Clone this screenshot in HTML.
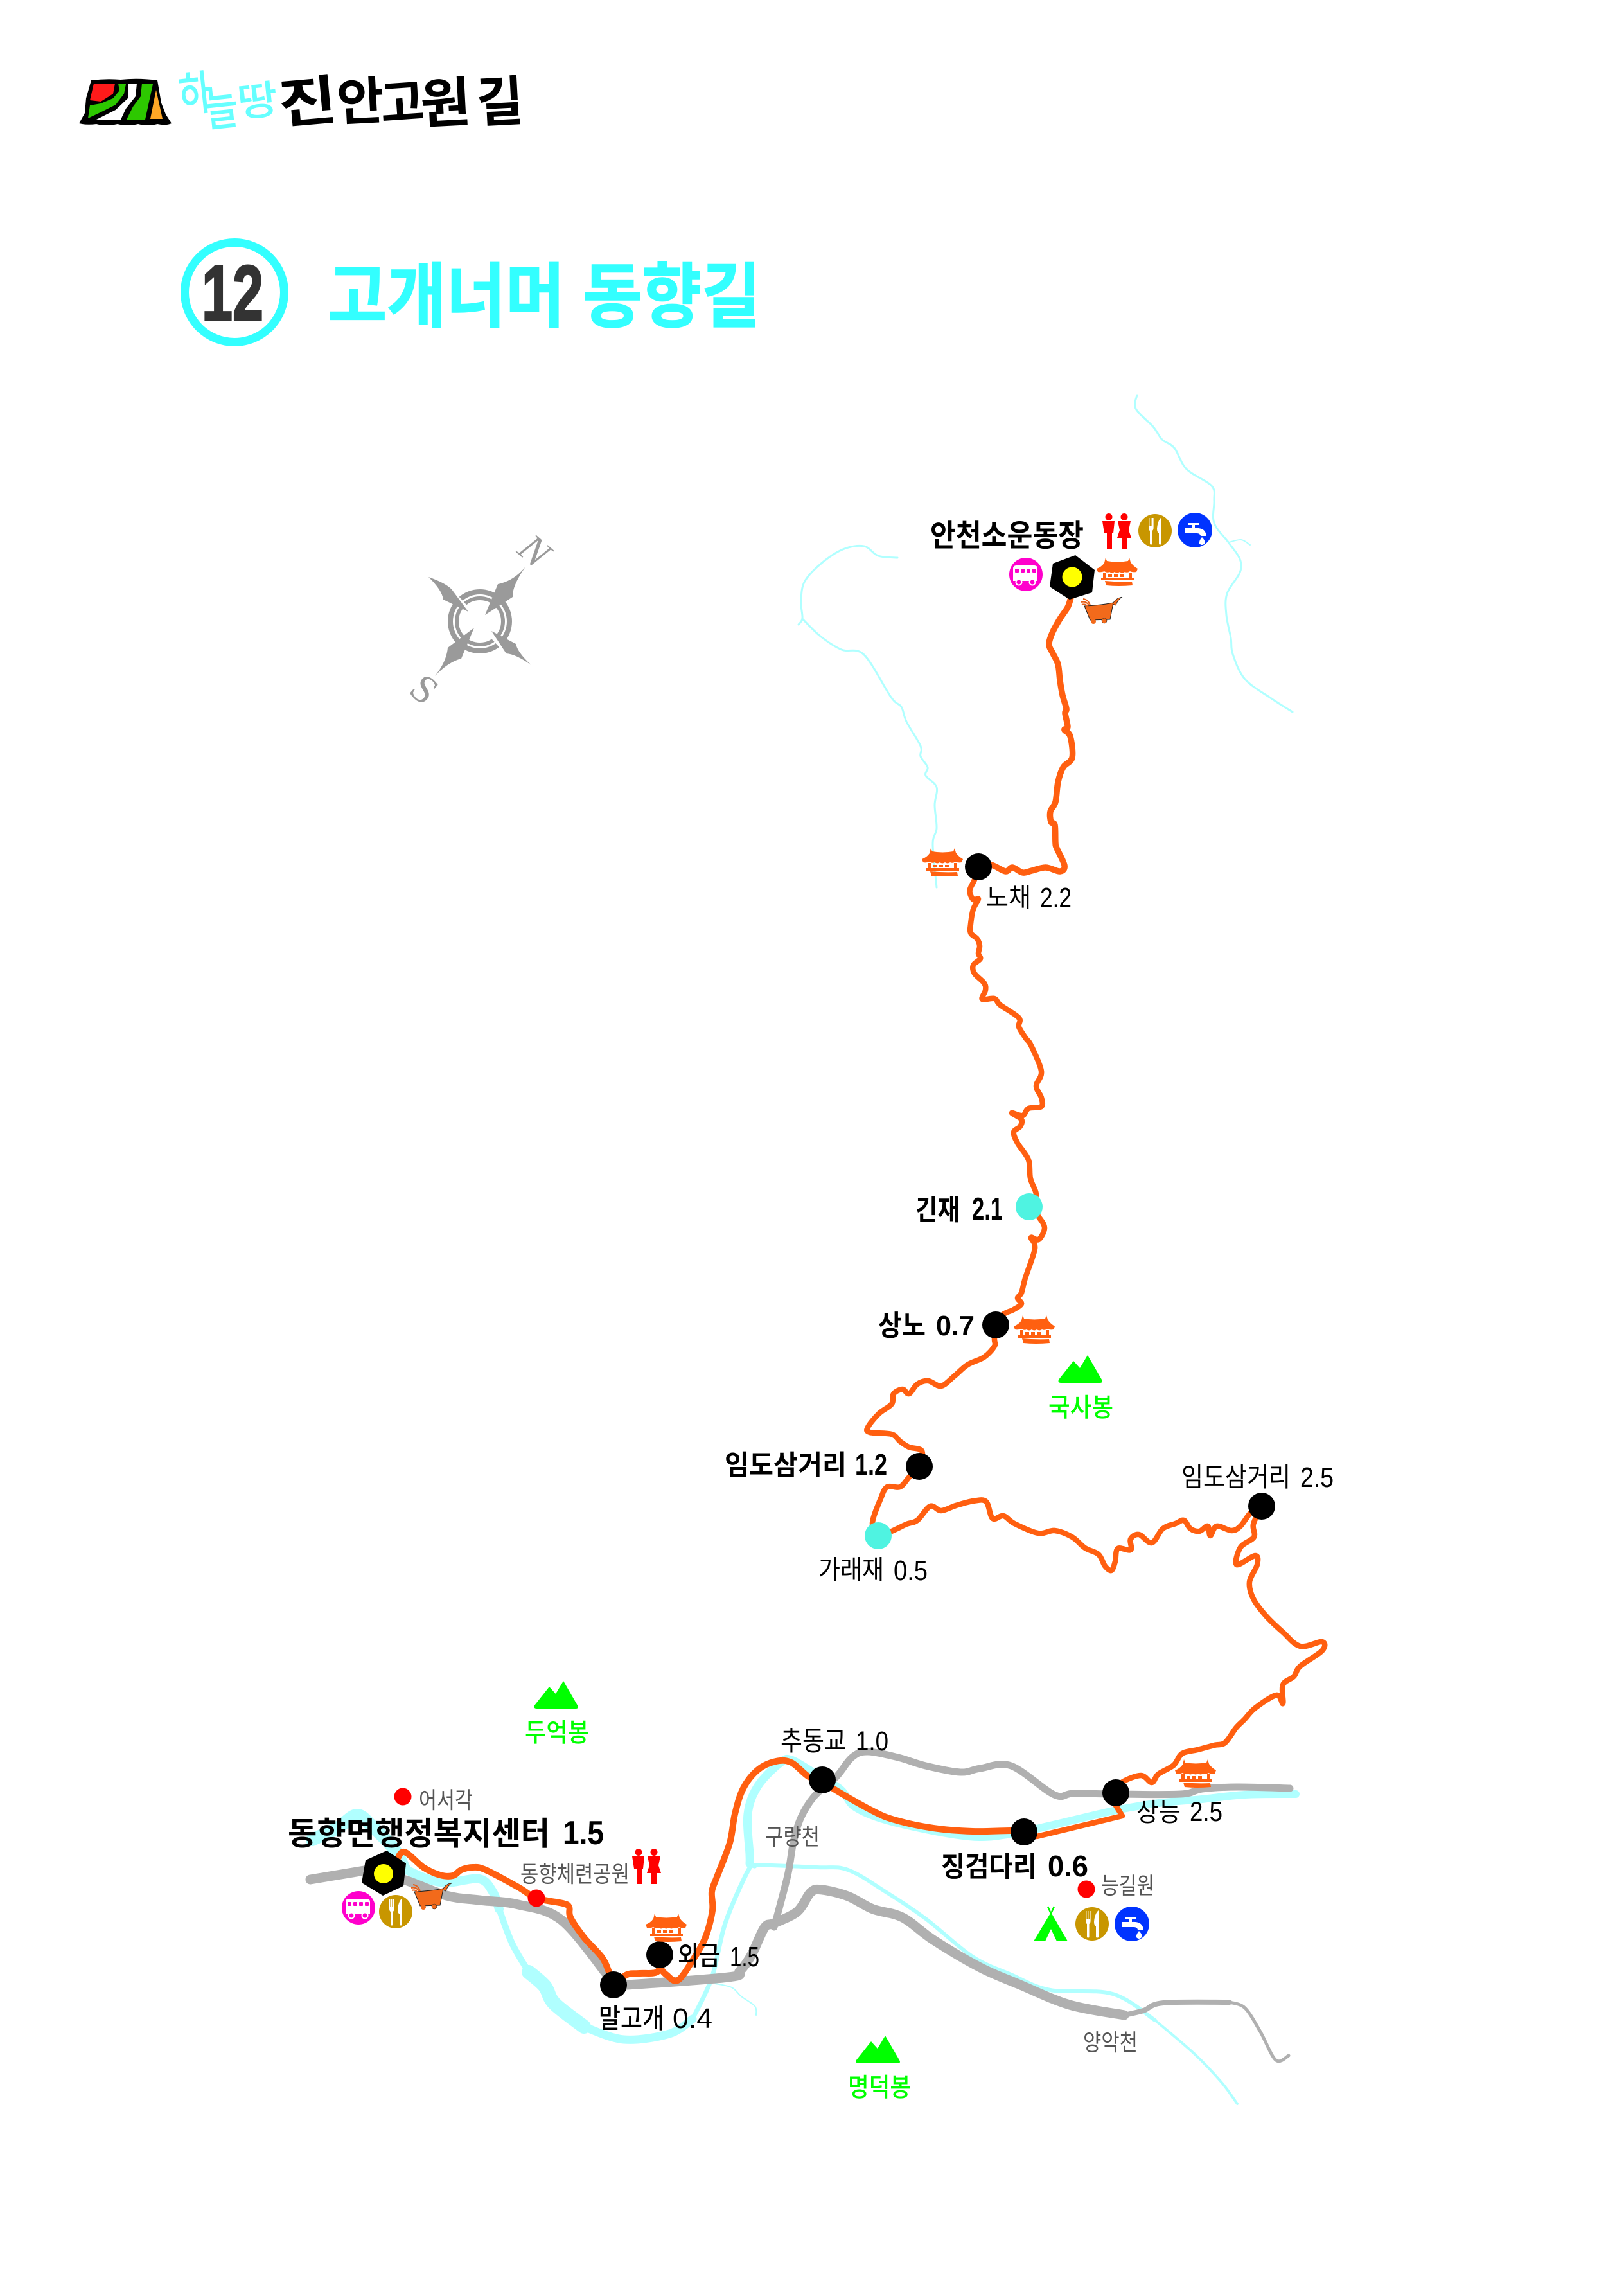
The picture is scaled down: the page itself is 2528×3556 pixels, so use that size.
<!DOCTYPE html>
<html><head><meta charset="utf-8"><style>
html,body{margin:0;padding:0;background:#fff}
svg{display:block}
text{font-family:"Liberation Sans","Noto Sans CJK KR",sans-serif}
.b{font-weight:700;fill:#000}.n{font-weight:400;fill:#000}.m{font-weight:500;fill:#000}
.g{font-weight:400;fill:#555}.p{font-weight:500;fill:#0f0}
</style></head><body>
<svg xmlns="http://www.w3.org/2000/svg" width="2528" height="3556" viewBox="0 0 2528 3556">
<defs>
<g id="pav" fill="#ff6010">
<path d="M14,1 L16,6 Q32,9 49,6 L51,1 L53,8 Q57,14 64,18 L62,23 Q56,24 52,22 Q48,25 44,23 Q40,26 36,23 Q32,26 28,23 Q24,26 20,23 Q16,25 12,22 Q7,24 2,23 L0,18 Q8,15 12,9 Z"/>
<rect x="10" y="24" width="5" height="8"/><rect x="50" y="24" width="5" height="8"/>
<rect x="18" y="27" width="6" height="4"/><rect x="27" y="27" width="6" height="4"/><rect x="36" y="27" width="6" height="4"/>
<path d="M7,32 H58 V36 H7 Z"/><path d="M13,37 Q34,39 55,38 L56,44 Q34,46 15,44 Z"/>
</g>
<g id="cart">
<path d="M5,14 Q30,13 50,9 L45,35 L14,36 Z" fill="#f26a1b" stroke="#222" stroke-width="1"/>
<path d="M49,11 Q53,2 64,0 Q57,4 54,13 Z" fill="#f26a1b" stroke="#222" stroke-width=".8"/>
<path d="M0,8 Q8,6 12,13 M1,12 Q7,10 10,15 M3,3 Q11,4 14,13" fill="none" stroke="#e8601a" stroke-width="2"/>
<circle cx="19" cy="38" r="4" fill="#f26a1b"/><circle cx="36" cy="37" r="4" fill="#f26a1b" stroke="#222" stroke-width=".6"/>
</g>
<g id="bus"><circle r="26" fill="#ff00cc"/>
<path d="M-20,-9 Q-20,-14 -15,-14 H13 Q18,-14 18,-9 V10 H-20 Z" fill="#fff"/>
<g fill="#ff00cc"><rect x="-17" y="-9" width="6" height="6" rx="1"/><rect x="-8" y="-9" width="6" height="6" rx="1"/><rect x="1" y="-9" width="6" height="6" rx="1"/><rect x="10" y="-9" width="6" height="6" rx="1"/></g>
<circle cx="-11" cy="12" r="4.5" fill="#ff00cc" stroke="#fff" stroke-width="2"/><circle cx="10" cy="12" r="4.5" fill="#ff00cc" stroke="#fff" stroke-width="2"/></g>
<g id="food"><circle r="26" fill="#c89600"/>
<path d="M-10,-20 H-8.6 V-8 H-7 V-20 H-5.6 V-8 H-4 V-20 H-2.4 V-5 Q-2.4,-1 -4.5,0 V21 Q-6,22 -8,21 V0 Q-10,-1 -10,-5 Z" fill="#fff"/>
<path d="M10,-21 V21 Q8,22 6,21 V4 Q3,2 3,-3 Q4,-16 10,-21 Z" fill="#fff"/></g>
<g id="water"><circle r="27" fill="#0033ff"/>
<path d="M-16,-3 H-4 V-8 H-11 V-11 H7 V-8 H0 V-3 Q14,-4 17,5 V9 H9 Q8,5 3,5 H-16 Z" fill="#fff"/>
<path d="M11,11 Q17,17 15,21 Q11,25 7,21 Q6,17 11,11 Z" fill="#fff"/></g>
<g id="wc" fill="#f00">
<circle cx="10" cy="5.5" r="5.5"/><path d="M0,12 H19 L17,31 H15 V55 H7 V31 H3 Z"/>
<circle cx="34" cy="5.5" r="5.5"/><path d="M24,12 H44 L41,26 L45,38 H38 V55 H30 V38 H23 L27,26 Z"/>
</g>
<path id="mt" d="M-1,31 L22,2 L32,13 L44,-7 L66,31 Q69,36 63,36 H3 Q-3,36 -1,31 Z" fill="#0f0"/>
</defs>
<rect width="2528" height="3556" fill="#fff"/>

<!-- logo -->
<path d="M142,125 Q165,122 188,124 Q215,121 245,125 L251,160 L258,178 L267,192 Q258,196 245,193 Q230,197 215,193 Q198,197 183,193 Q165,197 150,193 Q135,195 123,192 L132,176 L134,153 Z" fill="#000"/>
<path d="M146,130 L179,130 L176,146 L157,158 L140,156 Z" fill="#ff1a1a"/>
<path d="M184,130 L196,131 L193,146 L180,163 L154,176 L137,184 L140,164 L157,161 L176,153 L186,141 Z" fill="#2dc800"/>
<path d="M199,130 L213,130 L211,150 L196,169 L188,186 L150,186 L180,171 L199,153 Z" fill="#fff"/>
<path d="M221,130 L238,131 L226,186 L197,186 L207,166 L219,150 Z" fill="#2dc800"/>
<path d="M243,140 L253,185 L234,185 Z" fill="#ffa726"/>
<g font-weight="500" fill="#66ffff">
<text transform="translate(281,174) rotate(-6) scale(.9,1.18)" font-size="62">하</text>
<text transform="translate(322,197) rotate(-6) scale(.9,1.18)" font-size="62">늘</text>
<text transform="translate(372,182) rotate(-6) scale(1.1,1.0)" font-size="62">땅</text>
</g>
<g font-weight="700" fill="#000">
<text transform="translate(436,192) rotate(-5) scale(1.3,1.1)" font-size="76">진</text>
<text transform="translate(526,188) rotate(-3) scale(1.05,1.05)" font-size="76">안</text>
<text transform="translate(594,190) rotate(-4) scale(1.0,1.05)" font-size="74">고</text>
<text transform="translate(656,192) rotate(-3) scale(1.12,1.1)" font-size="76">원</text>
<text transform="translate(743,190) rotate(-3) scale(1.05,1.1)" font-size="76">길</text>
</g>

<!-- title -->
<circle cx="365" cy="455" r="77.5" fill="none" stroke="#33ffff" stroke-width="13"/>
<text x="314" y="498" font-size="122" font-weight="700" fill="#333" stroke="#333" stroke-width="3" textLength="96" lengthAdjust="spacingAndGlyphs">12</text>
<text x="510" y="500" font-size="110" font-weight="700" fill="#33ffff" stroke="#33ffff" stroke-width="1.5" textLength="674" lengthAdjust="spacingAndGlyphs">고개너머 동향길</text>

<!-- compass -->
<g fill="none" stroke="#9a9a9a"><circle cx="747" cy="967" r="46" stroke-width="8"/><circle cx="747" cy="967" r="36" stroke-width="6"/></g>
<g stroke="#fff" stroke-width="7"><path d="M700,918 L790,1016 M790,918 L706,1016"/></g>
<g fill="#9a9a9a">
<path d="M818,882 Q797,912 798,929 L755,957 L775,909 Q800,904 818,882 Z"/>
<path d="M667,898 Q693,907 703,917 L729,952 L690,933 Q688,918 667,898 Z"/>
<path d="M827,1035 Q803,1018 788,1017 L765,982 L803,1002 Q806,1016 827,1035 Z"/>
<path d="M677,1052 Q695,1030 697,1008 L738,977 L718,1025 Q698,1030 677,1052 Z"/>
<text transform="translate(803,859) rotate(41)" font-size="62" font-style="italic" style="font-family:'Liberation Serif',serif">N</text>
<text transform="translate(634,1077) rotate(41)" font-size="62" style="font-family:'Liberation Serif',serif">S</text>
</g>

<!-- rivers -->
<g fill="none" stroke="#b0ffff" stroke-linejoin="round" stroke-linecap="round">
<polyline class="s" stroke-width="3" points="1770,615 1768,636 1795,664 1809,684 1828,697 1847,730 1886,756 1890,779 1890,814 1913,845 1930,870 1930,891 1910,924 1909,957 1916,993 1919,1018 1938,1057 1979,1087 2012,1108"/>
<polyline class="s" stroke-width="2" points="1913,844 1932,840 1946,848"/>
<polyline class="s" stroke-width="3" points="1397,868 1367,865 1345,850 1312,855 1277,878 1252,906 1247,937 1249,962 1243,972"/>
<polyline class="s" stroke-width="3" points="1249,963 1277,990 1310,1011 1345,1019 1387,1085 1403,1100 1411,1123 1433,1161 1433,1177 1444,1194 1441,1207 1458,1225 1455,1253 1458,1289 1452,1314 1458,1381"/>
<polyline class="s" stroke-width="20" points="486,2863 525,2845 555,2825 578,2841 613,2877 629,2908"/>
<polyline class="s" stroke-width="14" points="629,2908 660,2922 695,2930 746,2924 767,2944 777,2971"/>
<polyline class="s" stroke-width="10" points="777,2971 797,3024 823,3069"/>
<polyline class="s" stroke-width="22" points="823,3069 848,3091 863,3118 909,3154"/>
<polyline class="s" stroke-width="13" points="909,3154 971,3174 1042,3165 1078,3142"/>
<polyline class="s" stroke-width="7" points="1078,3142 1108,3078 1129,2993 1164,2912 1175,2904"/>
<polyline class="s" stroke-width="13" points="1167,2900 1167,2886 1164,2823 1180,2779 1215,2743 1232,2739 1265,2758"/>
<polyline class="s" stroke-width="12" points="1265,2758 1308,2784 1332,2813 1392,2836 1508,2858 1574,2854 1635,2841 1738,2817 1804,2806 1871,2800 1938,2793 2017,2792"/>
<polyline class="s" stroke-width="6" points="1174,2902 1271,2906 1320,2910 1380,2945 1441,2986 1514,3045 1574,3073 1635,3097 1732,3103 1798,3144"/>
<polyline class="s" stroke-width="4" points="1798,3144 1859,3196 1901,3240 1926,3274"/>
<polyline class="s" stroke-width="2" points="1113,3087 1139,3093 1154,3107 1175,3122 1177,3136"/>
</g>

<!-- roads -->
<g fill="none" stroke="#b0b0b0" stroke-linejoin="round" stroke-linecap="round">
<polyline stroke-width="15" points="483,2925 597,2906"/>
<polyline class="s" stroke-width="15" points="597,2920 631,2926 695,2950 746,2957 807,2964 874,2988 945,3073 955,3089"/>
<polyline class="s" stroke-width="15" points="955,3089 976,3089 1134,3077 1152,3067 1170,3042 1190,3000 1205,2993 1241,2975 1262,2945 1280,2941 1320,2951 1359,2971 1405,2984 1453,3019 1526,3062 1586,3088 1665,3120 1750,3136"/>
<polyline class="s" stroke-width="8" points="1750,3136 1780,3129 1811,3117 1914,3116"/>
<polyline class="s" stroke-width="5" points="1914,3116 1938,3125 1962,3162 1986,3206 2006,3199"/>
<polyline class="s" stroke-width="11" points="1205,2999 1226,2919 1235,2867 1247,2828 1268,2795 1302,2765 1326,2735 1350,2726 1398,2735 1441,2748 1495,2758 1526,2752 1574,2748 1641,2793 1671,2791 1737,2792 1838,2792 1871,2784 1926,2781 2008,2783"/>
</g>

<!-- trail -->
<g fill="none" stroke="#ff5f10" stroke-linejoin="round" stroke-linecap="round">
<polyline class="s" stroke-width="9.5" points="1667,930 1662,945 1650,963 1638,985 1633,1003 1639,1017 1647,1034 1650,1059 1654,1082 1660,1103 1658,1110 1662,1131 1657,1136 1666,1146 1669,1179 1655,1194 1647,1217 1643,1248 1635,1263 1636,1279 1642,1284 1643,1312 1645,1320 1657,1347 1650,1356 1628,1350 1606,1355 1592,1358 1576,1350 1565,1356 1543,1346 1523,1349"/>
<polyline class="s" stroke-width="8.5" points="1523,1349 1517,1369 1509.5,1386 1515,1400 1523,1399 1515,1415 1511,1438 1511,1452 1521,1461 1525,1472 1523,1484 1526,1492 1515,1502 1517,1515 1532,1530 1534,1541 1529,1555 1548,1554 1557,1564 1586,1584 1586,1598 1597,1616 1605,1627 1621,1667 1613,1690 1621,1708 1621,1722 1601,1725 1592,1736 1575,1732 1590,1742 1588,1753 1578,1762 1584,1779 1601,1805 1604,1834 1613,1860 1602,1878"/>
<polyline class="s" stroke-width="8.5" points="1602,1878 1617,1894 1626,1911 1617,1929 1605,1926 1611,1943 1596,1989 1590,2012 1584,2020 1590,2029 1578,2038 1561,2046 1550,2062 1548,2084 1548,2095 1532,2112 1506,2124 1485,2142 1465,2157 1445,2149 1428,2154 1415,2169 1405,2162 1391,2169 1388,2185 1368,2200 1351,2221 1354,2229 1388,2232 1401,2243 1415,2252 1435,2258 1431,2282 1415,2299 1401,2314 1381,2314 1371,2332 1358,2370 1367,2390"/>
<polyline class="s" stroke-width="8.5" points="1367,2390 1388,2383 1411,2372 1428,2366 1448,2344 1465,2351 1488,2343 1515,2336 1535,2337 1545,2363 1562,2359 1579,2371 1616,2386 1642,2382 1669,2392 1689,2409 1710,2419 1720,2437 1730,2444 1736,2430 1740,2410 1760,2412 1760,2395 1773,2388 1793,2401 1810,2379 1830,2371 1843,2366 1853,2379 1867,2383 1880,2375 1884,2390 1894,2375 1917,2382 1931,2375 1947,2354 1964,2344"/>
<polyline class="s" stroke-width="8.5" points="1964,2344 1951,2372 1952,2392 1931,2408 1925,2435 1954,2421 1957,2435 1945,2462 1951,2488 1971,2515 1997,2540 2024,2562 2058,2555 2058,2569 2024,2593 2014,2609 1997,2622 1997,2651 1987,2638 1954,2658 1937,2676 1924,2689 1907,2712 1890,2716 1864,2723 1840,2729 1827,2747 1803,2761 1793,2774 1776,2763 1746,2774 1737,2790"/>
<polyline stroke-width="8.5" points="1737,2790 1737,2810 1747,2826 1614,2858 1594,2851"/>
<polyline class="s" stroke-width="10" points="1594,2851 1574,2849 1514,2850 1453,2845 1392,2832 1356,2817 1298,2784 1280,2770 1259,2765 1232,2743 1208,2741 1180,2754 1157,2783 1144,2823 1136,2868 1116,2921 1108,2944 1109,2973 1098,3015 1078,3051 1055,3082 1037,3073 1027,3062"/>
<polyline class="s" stroke-width="10" points="1027,3042 1024,3068 996,3071 976,3073 955,3089"/>
<polyline class="s" stroke-width="10" points="955,3089 948,3069 937,3046 909,3015 888,2984 886,2968 876,2962 835,2954 807,2937 756,2910 736,2906 718,2910 705,2919 685,2918 659,2906 629,2882 616,2899"/>
</g>

<!-- hexes -->
<polygon points="1674,864 1704,887 1700,922 1665,933 1634,913 1639,877" fill="#000"/><circle cx="1669" cy="898" r="15.5" fill="#ff0"/>
<polygon points="602,2880 632,2900 628,2935 596,2950 563,2930 569,2895" fill="#000"/><circle cx="597" cy="2916" r="15" fill="#ff0"/>

<!-- nodes -->
<g fill="#000">
<circle cx="1523" cy="1349" r="21"/><circle cx="1550" cy="2062" r="21"/><circle cx="1431" cy="2282" r="21"/><circle cx="1964" cy="2344" r="21"/>
<circle cx="1737" cy="2790" r="21"/><circle cx="1594" cy="2851" r="21"/><circle cx="1280" cy="2770" r="21"/><circle cx="1027" cy="3042" r="21"/><circle cx="955" cy="3089" r="21"/>
</g>
<circle cx="1602" cy="1878" r="21" fill="#4ff3e1"/><circle cx="1367" cy="2390" r="21" fill="#4ff3e1"/>
<g fill="#f00"><circle cx="835" cy="2954" r="13.5"/><circle cx="627" cy="2796" r="13.5"/><circle cx="1691" cy="2940" r="13.5"/></g>

<!-- icons -->
<use href="#pav" x="1707" y="867"/><use href="#pav" x="1435" y="1319"/><use href="#pav" x="1578" y="2046"/><use href="#pav" x="1829" y="2737"/><use href="#pav" x="1005" y="2977"/>
<use href="#cart" x="1683" y="929"/><use href="#cart" x="640" y="2930"/>
<use href="#bus" x="1597" y="894"/><use href="#bus" x="558" y="2969"/>
<use href="#food" x="1798" y="826"/><use href="#food" x="616" y="2975"/><use href="#food" x="1700" y="2994"/>
<use href="#water" x="1860" y="825"/><use href="#water" x="1762" y="2994"/>
<use href="#wc" x="1716" y="799"/><use href="#wc" x="984" y="2877"/>
<path d="M1636,2978 L1631,2967 M1636,2978 L1641,2967" stroke="#0f0" stroke-width="2.5" fill="none"/>
<path d="M1636,2976 L1662,3021 H1645 L1636,3002 L1627,3021 H1609 Z" fill="#0f0"/>
<use href="#mt" x="1649" y="2116"/><use href="#mt" x="833" y="2623"/><use href="#mt" x="1334" y="3175"/>

<!-- labels -->
<text class="b" x="1448" y="850" font-size="47" textLength="239" lengthAdjust="spacingAndGlyphs">안천소운동장</text>
<text class="n" x="1535" y="1411" font-size="41" textLength="70" lengthAdjust="spacingAndGlyphs">노채</text><text class="n" x="1619" y="1412" font-size="44" textLength="49" lengthAdjust="spacingAndGlyphs">2.2</text>
<text class="b" x="1425" y="1898" font-size="44" textLength="69" lengthAdjust="spacingAndGlyphs">긴재</text><text class="b" x="1513" y="1898" font-size="49" textLength="48" lengthAdjust="spacingAndGlyphs">2.1</text>
<text class="b" x="1367" y="2078" font-size="44" textLength="74" lengthAdjust="spacingAndGlyphs">상노</text><text class="b" x="1457" y="2078" font-size="44" textLength="60" lengthAdjust="spacingAndGlyphs">0.7</text>
<text class="b" x="1128" y="2295" font-size="43" textLength="190" lengthAdjust="spacingAndGlyphs">임도삼거리</text><text class="b" x="1331" y="2295" font-size="46" textLength="50" lengthAdjust="spacingAndGlyphs">1.2</text>
<text class="n" x="1839" y="2313" font-size="41" textLength="170" lengthAdjust="spacingAndGlyphs">임도삼거리</text><text class="n" x="2024" y="2314" font-size="44" textLength="52" lengthAdjust="spacingAndGlyphs">2.5</text>
<text class="n" x="1274" y="2457" font-size="41" textLength="102" lengthAdjust="spacingAndGlyphs">가래재</text><text class="n" x="1391" y="2459" font-size="44" textLength="53" lengthAdjust="spacingAndGlyphs">0.5</text>
<text class="p" x="1632" y="2204" font-size="40" textLength="101" lengthAdjust="spacingAndGlyphs">국사봉</text>
<text class="p" x="817" y="2710" font-size="40" textLength="100" lengthAdjust="spacingAndGlyphs">두억봉</text>
<text class="p" x="1320" y="3262" font-size="40" textLength="98" lengthAdjust="spacingAndGlyphs">명덕봉</text>
<text class="n" x="1215" y="2724" font-size="42" textLength="102" lengthAdjust="spacingAndGlyphs">추동교</text><text class="n" x="1332" y="2724" font-size="43" textLength="51" lengthAdjust="spacingAndGlyphs">1.0</text>
<text class="n" x="1769" y="2834" font-size="40" textLength="69" lengthAdjust="spacingAndGlyphs">상능</text><text class="n" x="1852" y="2834" font-size="43" textLength="51" lengthAdjust="spacingAndGlyphs">2.5</text>
<text class="b" x="1465" y="2920" font-size="43" textLength="149" lengthAdjust="spacingAndGlyphs">징검다리</text><text class="b" x="1631" y="2920" font-size="46" textLength="63" lengthAdjust="spacingAndGlyphs">0.6</text>
<text class="g" x="1714" y="2947" font-size="36" textLength="83" lengthAdjust="spacingAndGlyphs">능길원</text>
<text class="g" x="1191" y="2871" font-size="36" textLength="85" lengthAdjust="spacingAndGlyphs">구량천</text>
<text class="g" x="1686" y="3191" font-size="36" textLength="85" lengthAdjust="spacingAndGlyphs">양악천</text>
<text class="g" x="652" y="2814" font-size="36" textLength="84" lengthAdjust="spacingAndGlyphs">어서각</text>
<text class="b" x="448" y="2871" font-size="50" textLength="408" lengthAdjust="spacingAndGlyphs">동향면행정복지센터</text><text class="b" x="876" y="2870" font-size="52" textLength="64" lengthAdjust="spacingAndGlyphs">1.5</text>
<text class="g" x="810" y="2929" font-size="36" textLength="170" lengthAdjust="spacingAndGlyphs">동향체련공원</text>
<text class="m" x="1055" y="3058" font-size="41" textLength="66" lengthAdjust="spacingAndGlyphs">외금</text><text class="n" x="1136" y="3060" font-size="44" textLength="46" lengthAdjust="spacingAndGlyphs">1.5</text>
<text class="m" x="932" y="3156" font-size="42" textLength="102" lengthAdjust="spacingAndGlyphs">말고개</text><text class="n" x="1047" y="3156" font-size="44" textLength="62" lengthAdjust="spacingAndGlyphs">0.4</text>
</svg>
<script>
document.querySelectorAll('polyline.s').forEach(function(e){
  var n=e.getAttribute('points').trim().split(/\s+/).map(function(s){return s.split(',').map(Number)});
  var d='M'+n[0][0]+','+n[0][1];
  for(var i=0;i<n.length-1;i++){
    var a=n[Math.max(i-1,0)],b=n[i],c=n[i+1],f=n[Math.min(i+2,n.length-1)];
    d+=' C'+(b[0]+(c[0]-a[0])/6)+','+(b[1]+(c[1]-a[1])/6)+' '+(c[0]-(f[0]-b[0])/6)+','+(c[1]-(f[1]-b[1])/6)+' '+c[0]+','+c[1];
  }
  var p=document.createElementNS('http://www.w3.org/2000/svg','path');
  p.setAttribute('d',d);p.setAttribute('stroke-width',e.getAttribute('stroke-width'));
  e.parentNode.replaceChild(p,e);
});
</script>
</body></html>
